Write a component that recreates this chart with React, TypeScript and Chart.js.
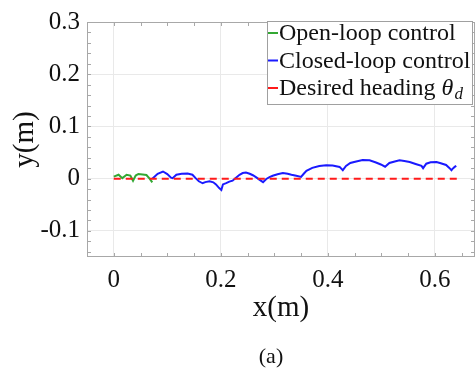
import React, { useEffect, useRef } from "react";
import { Chart, registerables } from "chart.js";

Chart.register(...registerables);

// ---- data ----
const openLoopX = [0.0, 0.009, 0.016, 0.024, 0.031, 0.036, 0.041, 0.046, 0.054, 0.061, 0.067, 0.072];
const openLoopY = [0.004, 0.0075, 0.001, 0.0075, 0.006, -0.004, 0.006, 0.009, 0.008, 0.007, 0.0, -0.007];

const closedLoopX = [
  0.072, 0.082, 0.092, 0.1, 0.107, 0.11, 0.117, 0.127, 0.138, 0.147, 0.153, 0.159, 0.166, 0.171, 0.179,
  0.186, 0.191, 0.197, 0.201, 0.204, 0.21, 0.216, 0.222, 0.229, 0.235, 0.241, 0.247, 0.254, 0.26, 0.267,
  0.272, 0.279, 0.285, 0.291, 0.297, 0.306, 0.316, 0.325, 0.332, 0.341, 0.35, 0.355, 0.36, 0.371, 0.384,
  0.397, 0.409, 0.422, 0.428, 0.434, 0.442, 0.453, 0.465, 0.478, 0.49, 0.499, 0.507, 0.515, 0.525, 0.534,
  0.543, 0.553, 0.564, 0.575, 0.578, 0.584, 0.592, 0.603, 0.611, 0.621, 0.627, 0.631, 0.633, 0.637, 0.64,
];
const closedLoopY = [
  0.0, 0.0094, 0.0137, 0.0088, 0.0019, 0.001, 0.0075, 0.0094, 0.0099, 0.0075, 0.001, -0.005, -0.0088, -0.0066, -0.005,
  -0.007, -0.011, -0.018, -0.0216, -0.011, -0.0084, -0.0056, -0.0038, 0.0024, 0.0075, 0.0107, 0.0118, 0.0094, 0.0066, 0.0019,
  -0.0019, -0.0066, -0.0006, 0.0028, 0.0056, 0.0084, 0.0107, 0.0094, 0.0075, 0.0056, 0.0032, 0.0094, 0.015, 0.0206, 0.0244,
  0.0257, 0.0253, 0.0225, 0.0163, 0.0244, 0.03, 0.0328, 0.0356, 0.0351, 0.031, 0.0272, 0.0229, 0.03, 0.0328, 0.0351,
  0.0338, 0.0319, 0.0281, 0.0244, 0.0201, 0.0287, 0.0313, 0.0319, 0.0295, 0.0263, 0.0206, 0.0163, 0.0188, 0.0225, 0.0244,
];

const desiredX = [0, 0.65];
const desiredY = [0, 0];

const xTickValues = [0, 0.2, 0.4, 0.6];
const xTickLabels = ["0", "0.2", "0.4", "0.6"];
const yTickValues = [-0.1, 0, 0.1, 0.2, 0.3];
const yTickLabels = ["-0.1", "0", "0.1", "0.2", "0.3"];

const seriesLabels = ["Open-loop control", "Closed-loop control", "Desired heading "];
const thetaSymbol = "θ";
const thetaSub = "d";
const xTitle = "x(m)";
const yTitle = "y(m)";
const caption = "(a)";

const SERIF = '"Liberation Serif", "Times New Roman", serif';
const TEXT = "#111111";
const GREEN = "#33a833";
const BLUE = "#1a1aff";
const RED = "#ff1a1a";

const toPoints = (xs: number[], ys: number[]) => xs.map((x, i) => ({ x, y: ys[i] }));

const framePlugin = {
  id: "frame",
  afterDatasetsDraw(chart: any) {
    const { ctx, chartArea: a, scales } = chart;
    ctx.save();
    ctx.strokeStyle = "#a8a8a8";
    ctx.lineWidth = 1;
    ctx.strokeRect(a.left + 0.5, a.top + 0.5, a.right - a.left - 1, a.bottom - a.top - 1);
    const tl = 4;
    ctx.beginPath();
    for (let i = -7; i <= 15; i++) {
      const py = Math.round(scales.y.getPixelForValue(i * 0.02)) + 0.5;
      if (py <= a.top + 1 || py >= a.bottom - 1) continue;
      ctx.moveTo(a.left, py);
      ctx.lineTo(a.left + tl, py);
      ctx.moveTo(a.right, py);
      ctx.lineTo(a.right - tl, py);
    }
    for (let i = 0; i <= 13; i++) {
      const px = Math.round(scales.x.getPixelForValue(i * 0.05)) + 0.5;
      if (px <= a.left + 1 || px >= a.right - 1) continue;
      ctx.moveTo(px, a.bottom);
      ctx.lineTo(px, a.bottom - tl);
      ctx.moveTo(px, a.top);
      ctx.lineTo(px, a.top + tl);
    }
    ctx.stroke();
    ctx.restore();
  },
};

const legendPlugin = {
  id: "customLegend",
  afterDraw(chart: any) {
    const { ctx } = chart;
    const colors = [GREEN, BLUE, RED];
    const bx = 267, by = 21, bw = 206, bh = 84;
    ctx.save();
    ctx.fillStyle = "#ffffff";
    ctx.fillRect(bx, by, bw, bh);
    ctx.strokeStyle = "#a0a0a0";
    ctx.lineWidth = 1;
    ctx.strokeRect(bx + 0.5, by + 0.5, bw - 1, bh - 1);
    ctx.textBaseline = "alphabetic";
    ctx.textAlign = "left";
    for (let i = 0; i < seriesLabels.length; i++) {
      const base = 40 + i * 27.5;
      ctx.strokeStyle = colors[i];
      ctx.lineWidth = 2;
      ctx.beginPath();
      ctx.moveTo(268, base - 7);
      ctx.lineTo(278, base - 7);
      ctx.stroke();
      ctx.fillStyle = TEXT;
      ctx.font = `24px ${SERIF}`;
      ctx.fillText(seriesLabels[i], 279, base);
      if (i === 2) {
        const w = ctx.measureText(seriesLabels[i]).width;
        ctx.font = `italic 24px ${SERIF}`;
        ctx.fillText(thetaSymbol, 279 + w, base);
        const w2 = ctx.measureText(thetaSymbol).width;
        ctx.font = `italic 17px ${SERIF}`;
        ctx.fillText(thetaSub, 279 + w + w2 + 1, base + 4);
      }
    }
    ctx.fillStyle = TEXT;
    ctx.font = `22px ${SERIF}`;
    ctx.textAlign = "center";
    ctx.textBaseline = "middle";
    ctx.fillText(caption, 271, 357);
    ctx.restore();
  },
};

export default function App() {
  const canvasRef = useRef<HTMLCanvasElement | null>(null);

  useEffect(() => {
    const canvas = canvasRef.current;
    if (!canvas) return;
    const chart = new Chart(canvas, {
      type: "line",
      data: {
        datasets: [
          {
            label: seriesLabels[0],
            data: toPoints(openLoopX, openLoopY),
            borderColor: GREEN,
            borderWidth: 2,
            pointRadius: 0,
            tension: 0,
            order: 2,
          },
          {
            label: seriesLabels[1],
            data: toPoints(closedLoopX, closedLoopY),
            borderColor: BLUE,
            borderWidth: 2,
            pointRadius: 0,
            tension: 0,
            order: 1,
          },
          {
            label: seriesLabels[2],
            data: toPoints(desiredX, desiredY),
            borderColor: RED,
            borderWidth: 2,
            borderDash: [7, 5],
            pointRadius: 0,
            tension: 0,
            order: 0,
          },
        ],
      },
      options: {
        animation: false,
        responsive: false,
        devicePixelRatio: 1,
        layout: { padding: { top: 18, right: 1, left: 0, bottom: 0 } },
        plugins: { legend: { display: false }, tooltip: { enabled: false } },
        scales: {
          x: {
            type: "linear",
            min: -0.05,
            max: 0.675,
            afterBuildTicks: (s: any) => {
              s.ticks = xTickValues.map((v) => ({ value: v }));
            },
            afterFit: (s: any) => {
              s.height = 111;
            },
            grid: { color: "#e9e9e9", drawTicks: false, lineWidth: 1 },
            border: { display: false },
            ticks: {
              autoSkip: false,
              maxRotation: 0,
              padding: 8,
              color: TEXT,
              font: { family: SERIF, size: 25 },
              callback: (v: any, i: number) => xTickLabels[i],
            },
            title: {
              display: true,
              text: xTitle,
              color: TEXT,
              font: { family: SERIF, size: 29 },
              padding: { top: 0, bottom: 42 },
            },
          },
          y: {
            type: "linear",
            min: -0.15,
            max: 0.3,
            afterBuildTicks: (s: any) => {
              s.ticks = yTickValues.map((v) => ({ value: v }));
            },
            afterFit: (s: any) => {
              s.width = 87;
            },
            grid: { color: "#e9e9e9", drawTicks: false, lineWidth: 1 },
            border: { display: false },
            ticks: {
              autoSkip: false,
              padding: 7,
              color: TEXT,
              font: { family: SERIF, size: 25 },
              callback: (v: any, i: number) => yTickLabels[i],
            },
            title: {
              display: true,
              text: yTitle,
              color: TEXT,
              font: { family: SERIF, size: 29 },
              padding: { top: 8, bottom: 0 },
            },
          },
        },
      },
      plugins: [framePlugin, legendPlugin],
    } as any);
    return () => chart.destroy();
  }, []);

  return (
    <div style={{ position: "absolute", left: 0, top: 0, width: 476, height: 368, background: "#fff" }}>
      <canvas ref={canvasRef} width={476} height={368} style={{ display: "block" }} />
    </div>
  );
}
